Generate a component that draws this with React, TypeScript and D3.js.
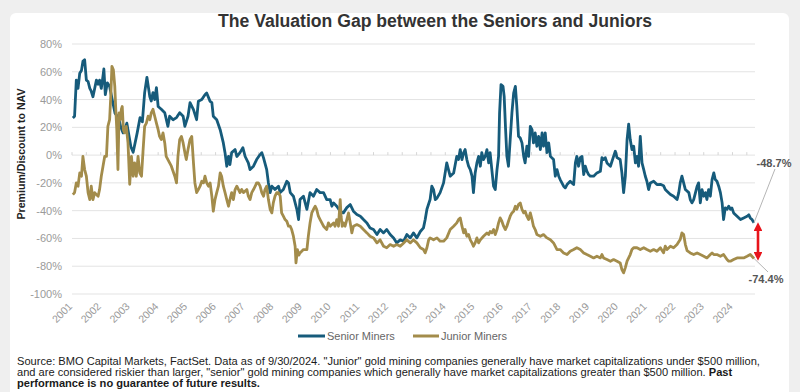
import React, { useEffect } from "react";
import * as d3 from "d3";

const seniorSeries: [number, number][] = [
  [2001.03, 26.8], [2001.09, 28], [2001.15, 54], [2001.21, 48], [2001.27, 59], [2001.33, 61], [2001.38, 67.5], [2001.44, 68.7],
  [2001.5, 54], [2001.56, 53], [2001.62, 48], [2001.67, 46], [2001.73, 42], [2001.79, 48], [2001.85, 54], [2001.91, 51],
  [2001.96, 54], [2002.02, 48], [2002.08, 57], [2002.11, 62], [2002.16, 43.5], [2002.23, 52], [2002.31, 49.5], [2002.4, 40],
  [2002.5, 30], [2002.62, 27], [2002.7, 20], [2002.78, 16], [2002.91, 23], [2003.05, 6], [2003.13, 2], [2003.27, 16],
  [2003.37, 27], [2003.45, 24], [2003.53, 45], [2003.61, 56], [2003.71, 42], [2003.76, 39], [2003.82, 45], [2003.88, 40],
  [2003.94, 48.5], [2004.0, 35], [2004.11, 33], [2004.23, 30.5], [2004.34, 20.7], [2004.4, 28], [2004.52, 25.5], [2004.64, 27],
  [2004.75, 30.5], [2004.87, 28], [2004.93, 20.7], [2005.04, 28], [2005.11, 37.8], [2005.23, 32.7], [2005.34, 25.5], [2005.4, 38.7],
  [2005.52, 40], [2005.63, 43.5], [2005.69, 44.7], [2005.81, 38.7], [2005.87, 37.8], [2005.92, 28], [2006.04, 25.5], [2006.16, 18.3],
  [2006.27, 8.8], [2006.33, 1.6], [2006.39, -8], [2006.45, -0.9], [2006.5, -6.8], [2006.56, 1.8], [2006.68, 4], [2006.74, -1],
  [2006.85, 1.8], [2006.95, 5.4], [2007.03, -1], [2007.14, -5.6], [2007.2, -10.4], [2007.32, -8], [2007.43, -3.2], [2007.55, 0.4],
  [2007.61, 1.8], [2007.67, -2], [2007.78, -10.4], [2007.84, -20], [2007.9, -27], [2007.96, -22.4], [2008.07, -24.8], [2008.19, -22.4],
  [2008.25, -27], [2008.36, -24.8], [2008.48, -18.8], [2008.54, -20], [2008.6, -27], [2008.71, -29.6], [2008.83, -39], [2008.89, -46.4],
  [2008.94, -32], [2009.06, -29.6], [2009.12, -34.4], [2009.18, -39], [2009.29, -27], [2009.41, -29.6], [2009.52, -24.8], [2009.64, -27],
  [2009.76, -27], [2009.87, -32], [2009.99, -32], [2010.05, -36.8], [2010.11, -34.4], [2010.22, -36.8], [2010.34, -40.4], [2010.45, -41.6],
  [2010.57, -37.8], [2010.69, -35.6], [2010.8, -40.4], [2010.92, -42.8], [2011.04, -44], [2011.15, -46.4], [2011.27, -48.8], [2011.38, -52.4],
  [2011.5, -53.6], [2011.62, -57.2], [2011.73, -53.6], [2011.85, -56], [2011.96, -53.6], [2012.08, -57.2], [2012.2, -59.6], [2012.31, -63.2],
  [2012.43, -61], [2012.55, -62], [2012.66, -57.2], [2012.78, -59.6], [2012.89, -56], [2013.01, -59.6], [2013.13, -55], [2013.24, -52.4],
  [2013.3, -46.4], [2013.36, -39], [2013.47, -32], [2013.53, -22.4], [2013.59, -24.8], [2013.65, -32], [2013.71, -31], [2013.82, -27],
  [2013.94, -20], [2014.05, -5.6], [2014.11, -10.4], [2014.17, -15.2], [2014.29, -12.8], [2014.4, -0.9], [2014.46, -3.2], [2014.52, 4],
  [2014.58, -3.2], [2014.64, 1.8], [2014.69, 4], [2014.75, -3.2], [2014.81, -8], [2014.87, -10.4], [2014.93, -15.2], [2014.98, -27],
  [2015.04, -12.8], [2015.1, -5.6], [2015.16, -0.9], [2015.22, -8], [2015.27, 1.8], [2015.33, -3.2], [2015.39, -0.9], [2015.45, 4],
  [2015.51, -5.6], [2015.56, 1.8], [2015.62, -10.4], [2015.68, -22.4], [2015.74, -24.8], [2015.8, -10.4], [2015.855, -0.9], [2015.89, 30.4],
  [2015.94, 50.7], [2016.01, 49.5], [2016.05, 42.3], [2016.1, 18.3], [2016.145, -0.9], [2016.2, -8], [2016.26, 11.2], [2016.32, 30.4],
  [2016.38, 44.7], [2016.44, 49.5], [2016.49, 35.1], [2016.55, 13.5], [2016.61, 12.3], [2016.67, 8.8], [2016.73, -0.9], [2016.78, -5.6],
  [2016.84, 6.4], [2016.9, -0.9], [2016.96, 20.7], [2017.02, 18.3], [2017.07, 8.8], [2017.13, 16], [2017.19, 6.4], [2017.25, 13.5],
  [2017.31, 4], [2017.37, 16], [2017.42, 6.4], [2017.48, 16], [2017.54, 1.8], [2017.6, 8.8], [2017.66, -0.9], [2017.77, -3.2],
  [2017.83, -15.2], [2017.89, -10.4], [2017.95, -15.2], [2018.0, -17.6], [2018.12, -22.4], [2018.18, -23.6], [2018.24, -21.2], [2018.35, -18.8],
  [2018.41, -20], [2018.47, -21.2], [2018.53, -5.6], [2018.58, -0.9], [2018.64, -8], [2018.7, -1.8], [2018.76, -0.9], [2018.82, -14],
  [2018.875, -8], [2018.93, -11.6], [2018.99, -14], [2019.05, -15.2], [2019.165, -15.2], [2019.28, -12.8], [2019.4, -11.6], [2019.455, -1.8],
  [2019.51, -3.2], [2019.57, -1.8], [2019.63, -5.6], [2019.75, -8], [2019.86, -0.9], [2019.92, 2.8], [2019.98, -1.8], [2020.09, -3.2],
  [2020.15, -12.8], [2020.21, -27], [2020.27, -15.2], [2020.33, 11.2], [2020.385, 22.3], [2020.44, 11.2], [2020.5, 4], [2020.56, 6.4],
  [2020.62, -5.6], [2020.675, -0.9], [2020.73, -8], [2020.79, 13.5], [2020.85, -5.6], [2020.91, -10.4], [2020.965, -15.2], [2021.02, -18.8],
  [2021.08, -24.8], [2021.14, -20], [2021.255, -18.8], [2021.37, -21.2], [2021.49, -21], [2021.6, -22], [2021.66, -24.8], [2021.72, -26],
  [2021.84, -28.3], [2021.95, -29.6], [2022.07, -32], [2022.13, -27], [2022.18, -20], [2022.24, -15.2], [2022.3, -20], [2022.36, -24.8],
  [2022.48, -27], [2022.53, -32], [2022.59, -34.4], [2022.65, -32], [2022.77, -22.4], [2022.82, -20], [2022.88, -34.4], [2022.94, -24.8],
  [2023.0, -29.6], [2023.06, -27], [2023.11, -32], [2023.17, -24.8], [2023.23, -29.6], [2023.29, -17.6], [2023.35, -12.8], [2023.4, -17.6],
  [2023.46, -18.8], [2023.52, -22.4], [2023.58, -27], [2023.64, -34.4], [2023.69, -46.4], [2023.75, -38], [2023.81, -39], [2023.87, -36.8],
  [2023.93, -39], [2023.98, -38], [2024.04, -41.6], [2024.16, -44], [2024.28, -46.4], [2024.39, -45.2], [2024.51, -44], [2024.57, -43],
  [2024.62, -45.2], [2024.68, -46.4], [2024.75, -48.7],
];

const juniorSeries: [number, number][] = [
  [2001.03, -28.4], [2001.09, -27], [2001.15, -20], [2001.21, -22.4], [2001.27, -12.8], [2001.33, -15.2], [2001.38, -0.9], [2001.44, -10.4],
  [2001.5, -15.2], [2001.56, -27], [2001.62, -32], [2001.67, -22.4], [2001.73, -32], [2001.79, -27], [2001.85, -28.4], [2001.91, -29.6],
  [2001.96, -24.8], [2002.02, -15.2], [2002.08, -8], [2002.14, -0.9], [2002.2, -0.9], [2002.25, 20.7], [2002.31, 25.5], [2002.35, 42.3],
  [2002.39, 63.9], [2002.44, 61.5], [2002.49, 49.5], [2002.52, 35], [2002.56, 18.3], [2002.6, -10.4], [2002.64, 30.4], [2002.68, 25.5],
  [2002.72, 33], [2002.75, 35], [2002.79, 18.3], [2002.83, 16], [2002.89, 20.7], [2002.95, 8.8], [2003.01, -21], [2003.07, -0.9],
  [2003.13, -15.2], [2003.18, -5.6], [2003.24, -15.2], [2003.3, -0.9], [2003.36, -12.8], [2003.42, -15.2], [2003.47, 1.8], [2003.53, 20.7],
  [2003.59, 23], [2003.65, 28], [2003.71, 25.5], [2003.76, 30.4], [2003.82, 33], [2003.88, 28], [2003.94, 23], [2004.0, 18.3],
  [2004.05, 13.5], [2004.11, 11.2], [2004.17, 16], [2004.23, 8.8], [2004.28, -0.9], [2004.34, -3.2], [2004.46, -8], [2004.58, -15.2],
  [2004.64, -20], [2004.69, -0.9], [2004.75, 11.2], [2004.81, 13.5], [2004.87, 8.8], [2004.93, 1.8], [2004.98, -3.2], [2005.04, 4],
  [2005.11, 11.2], [2005.17, 13.5], [2005.23, -5.6], [2005.28, -20], [2005.34, -27], [2005.4, -24.8], [2005.46, -22.4], [2005.52, -18.8],
  [2005.58, -20], [2005.63, -15.2], [2005.69, -20], [2005.75, -22.4], [2005.81, -20], [2005.87, -29.6], [2005.92, -40.4], [2005.98, -32],
  [2006.04, -27], [2006.1, -22.4], [2006.16, -12.8], [2006.21, -15.2], [2006.27, -22.4], [2006.33, -27], [2006.39, -32], [2006.45, -36.8],
  [2006.5, -32], [2006.56, -27], [2006.62, -32], [2006.68, -24.8], [2006.74, -22.4], [2006.85, -27], [2006.91, -24.8], [2006.97, -27],
  [2007.09, -24.8], [2007.14, -29.6], [2007.2, -32], [2007.26, -27], [2007.32, -24.8], [2007.38, -22.4], [2007.43, -20], [2007.49, -20],
  [2007.55, -22.4], [2007.61, -27], [2007.67, -29.6], [2007.72, -24.8], [2007.78, -22.4], [2007.84, -32], [2007.9, -39], [2007.96, -41.6],
  [2008.01, -34.4], [2008.07, -29.6], [2008.13, -27], [2008.19, -27], [2008.25, -29.6], [2008.3, -41.6], [2008.36, -44], [2008.42, -46.4],
  [2008.48, -47.6], [2008.54, -51.2], [2008.6, -51.2], [2008.65, -53.6], [2008.71, -58.4], [2008.77, -65.6], [2008.8, -77.6], [2008.85, -68],
  [2008.9, -72], [2008.94, -70.4], [2009.06, -68], [2009.18, -68], [2009.23, -58.4], [2009.29, -48.8], [2009.35, -41.6], [2009.41, -39],
  [2009.47, -36.8], [2009.52, -39], [2009.58, -44], [2009.64, -46.4], [2009.76, -51.2], [2009.87, -53.6], [2009.93, -48.8], [2009.99, -51.2],
  [2010.11, -48.8], [2010.16, -51.2], [2010.22, -46.4], [2010.28, -51.2], [2010.34, -32], [2010.37, -44], [2010.41, -51.2], [2010.45, -48.8],
  [2010.51, -51.2], [2010.57, -46.4], [2010.63, -41.6], [2010.69, -48.8], [2010.745, -56], [2010.8, -51.2], [2010.92, -50], [2011.04, -51.2],
  [2011.15, -53.6], [2011.27, -56], [2011.38, -58.4], [2011.5, -59.6], [2011.62, -63.2], [2011.73, -61], [2011.85, -65.6], [2011.96, -66.7],
  [2012.08, -64.4], [2012.2, -65.6], [2012.31, -64.4], [2012.43, -65.6], [2012.55, -63.2], [2012.66, -61], [2012.78, -63.2], [2012.89, -61],
  [2013.01, -63.2], [2013.13, -66.7], [2013.24, -68], [2013.3, -70.4], [2013.36, -66.7], [2013.42, -61], [2013.47, -59.6], [2013.59, -61],
  [2013.71, -59.6], [2013.82, -62], [2013.94, -62], [2014.05, -59.6], [2014.17, -53.6], [2014.29, -51.2], [2014.4, -48.8], [2014.46, -46.4],
  [2014.52, -45.2], [2014.58, -51.2], [2014.64, -56], [2014.69, -53.6], [2014.75, -58.4], [2014.81, -57.2], [2014.87, -61], [2014.93, -63.2],
  [2014.98, -65.6], [2015.04, -63.2], [2015.1, -59.6], [2015.16, -63.2], [2015.22, -61], [2015.33, -58.4], [2015.45, -56], [2015.51, -57.2],
  [2015.56, -55], [2015.62, -56], [2015.68, -53.6], [2015.74, -57.2], [2015.8, -53.6], [2015.855, -48.8], [2015.91, -45.2], [2015.97, -47.6],
  [2016.03, -51.2], [2016.09, -53.6], [2016.145, -51.2], [2016.2, -47.6], [2016.26, -44], [2016.32, -41.6], [2016.38, -40.4], [2016.44, -36.8],
  [2016.49, -39], [2016.55, -35.6], [2016.61, -34.4], [2016.67, -39], [2016.73, -41.6], [2016.78, -40.4], [2016.84, -44], [2016.9, -46.4],
  [2016.96, -41.6], [2017.02, -46.4], [2017.07, -51.2], [2017.13, -53.6], [2017.19, -57.2], [2017.31, -58.4], [2017.42, -57.2], [2017.54, -59.6],
  [2017.66, -61], [2017.77, -63.2], [2017.89, -68], [2018.0, -68], [2018.12, -70.4], [2018.24, -71.6], [2018.35, -69.2], [2018.47, -68],
  [2018.58, -66.7], [2018.7, -68], [2018.82, -70.4], [2018.93, -71.6], [2019.05, -72.8], [2019.165, -74], [2019.28, -72.8], [2019.4, -74],
  [2019.455, -71.6], [2019.51, -74], [2019.63, -75.2], [2019.75, -76.4], [2019.86, -75.2], [2019.98, -76.4], [2020.09, -77.6], [2020.15, -82.4],
  [2020.21, -84.8], [2020.27, -81], [2020.33, -76.4], [2020.385, -74], [2020.44, -71.6], [2020.5, -68], [2020.56, -66.7], [2020.675, -66.7],
  [2020.79, -68], [2020.91, -66.7], [2021.02, -68], [2021.14, -69.2], [2021.255, -68], [2021.37, -69.2], [2021.49, -66.7], [2021.6, -70.4],
  [2021.66, -65.6], [2021.72, -68], [2021.84, -65.6], [2021.95, -66.7], [2022.07, -64.4], [2022.18, -60.8], [2022.24, -56], [2022.3, -57.2],
  [2022.36, -64.4], [2022.42, -68.8], [2022.53, -70.4], [2022.65, -71.6], [2022.77, -70.4], [2022.88, -71.6], [2023.0, -72.8], [2023.11, -74],
  [2023.23, -71.6], [2023.29, -70.4], [2023.35, -71.6], [2023.46, -71.6], [2023.58, -72.8], [2023.69, -71.6], [2023.81, -75.2], [2023.87, -76.4],
  [2023.93, -76.4], [2024.04, -75.2], [2024.16, -74], [2024.28, -74], [2024.39, -74], [2024.51, -72.8], [2024.62, -71.6], [2024.75, -74.4],
];

const yTicks = [80, 60, 40, 20, 0, -20, -40, -60, -80, -100];
const yearLabels = [2001, 2002, 2003, 2004, 2005, 2006, 2007, 2008, 2009, 2010, 2011, 2012, 2013, 2014, 2015, 2016, 2017, 2018, 2019, 2020, 2021, 2022, 2023, 2024];
const seriesNames = ["Senior Miners", "Junior Miners"];
const endLabels = ["-48.7%", "-74.4%"];
const title = "The Valuation Gap between the Seniors and Juniors";
const yAxisTitle = "Premium/Discount to NAV";
const sourceLines = [
  "Source: BMO Capital Markets, FactSet. Data as of 9/30/2024. \"Junior\" gold mining companies generally have market capitalizations under $500 million,",
  "and are considered riskier than larger, \"senior\" gold mining companies which generally have market capitalizations greater than $500 million. ",
];
const sourceBold2 = "Past";
const sourceBold3 = "performance is no guarantee of future results.";

const W = 800, H = 392;
const FONT = "'Liberation Sans', Arial, Helvetica, sans-serif";
const SENIOR = "#165b7b";
const JUNIOR = "#a38c4b";

export default function App() {
  useEffect(() => {
    document.body.style.margin = "0";
  }, []);
  const x = d3.scaleLinear().domain([2001, 2024.75]).range([72, 754]);
  const y = d3.scaleLinear().domain([-100, 80]).range([294, 44]);
  const line = d3.line<[number, number]>().x((d) => x(d[0])).y((d) => y(d[1]));
  const halfYears = d3.range(2001, 2025, 0.5);
  const sEnd = seniorSeries[seniorSeries.length - 1];
  const jEnd = juniorSeries[juniorSeries.length - 1];
  const ax = x(sEnd[0]) + 4;
  return (
    <svg width={W} height={H} style={{ position: "absolute", left: 0, top: 0, fontFamily: FONT }}>
      <defs>
        <marker id="ah" viewBox="0 0 10 10" refX="5" refY="5" markerWidth="3.4" markerHeight="3.4" orient="auto-start-reverse">
          <path d="M0,0 L10,5 L0,10 z" fill="#e8141b" />
        </marker>
      </defs>
      <rect x={0} y={0} width={W} height={H} fill="#efefef" />
      <rect x={10} y={13} width={779} height={H} rx={6} fill="#ffffff" />
      <text x={435} y={27} textAnchor="middle" fontSize={17.6} fontWeight="bold" fill="#333">{title}</text>
      {yTicks.map((t) => (
        <g key={t}>
          <line x1={72} x2={755} y1={y(t)} y2={y(t)} stroke="#e3e3e3" strokeWidth={1} />
          <text x={62} y={y(t) + 4} textAnchor="end" fontSize={11} fill="#9a9a9a">{t}%</text>
        </g>
      ))}
      {halfYears.map((t) => (
        <line key={t} x1={x(t)} x2={x(t)} y1={y(0)} y2={y(0) - 3} stroke="#d6d6d6" strokeWidth={1} />
      ))}
      <text transform={`translate(25,${(y(80) + y(-100)) / 2 - 15}) rotate(-90)`} textAnchor="middle" fontSize={10.6} fontWeight="bold" fill="#222">{yAxisTitle}</text>
      {yearLabels.map((yr) => (
        <text key={yr} transform={`translate(${x(yr) + 1},307) rotate(-45)`} textAnchor="end" fontSize={10.5} fill="#9a9a9a">{yr}</text>
      ))}
      <path d={line(seniorSeries) || ""} fill="none" stroke={SENIOR} strokeWidth={2.8} strokeLinejoin="round" />
      <path d={line(juniorSeries) || ""} fill="none" stroke={JUNIOR} strokeWidth={2.8} strokeLinejoin="round" />
      <line x1={x(sEnd[0])} y1={y(sEnd[1])} x2={775} y2={169} stroke="#b5b5b5" strokeWidth={1} />
      <line x1={x(jEnd[0])} y1={y(jEnd[1])} x2={768} y2={272} stroke="#b5b5b5" strokeWidth={1} />
      <text x={774} y={167} textAnchor="middle" fontSize={11} fontWeight="bold" fill="#555">{endLabels[0]}</text>
      <text x={766} y={283} textAnchor="middle" fontSize={11} fontWeight="bold" fill="#555">{endLabels[1]}</text>
      <line x1={ax} x2={ax} y1={y(sEnd[1]) + 4} y2={y(jEnd[1]) - 2} stroke="#e8141b" strokeWidth={2.6} markerStart="url(#ah)" markerEnd="url(#ah)" />
      <line x1={298} x2={325} y1={336} y2={336} stroke={SENIOR} strokeWidth={3} />
      <text x={327} y={340} fontSize={11} fill="#666">{seriesNames[0]}</text>
      <line x1={413} x2={439} y1={336} y2={336} stroke={JUNIOR} strokeWidth={3} />
      <text x={441} y={340} fontSize={11} fill="#666">{seriesNames[1]}</text>
      <text x={17} y={365} fontSize={11.1} fill="#1a1a1a">{sourceLines[0]}</text>
      <text x={17} y={376} fontSize={11.1} fill="#1a1a1a">{sourceLines[1]}<tspan fontWeight="bold">{sourceBold2}</tspan></text>
      <text x={17} y={387} fontSize={11.1} fontWeight="bold" fill="#1a1a1a">{sourceBold3}</text>
    </svg>
  );
}
